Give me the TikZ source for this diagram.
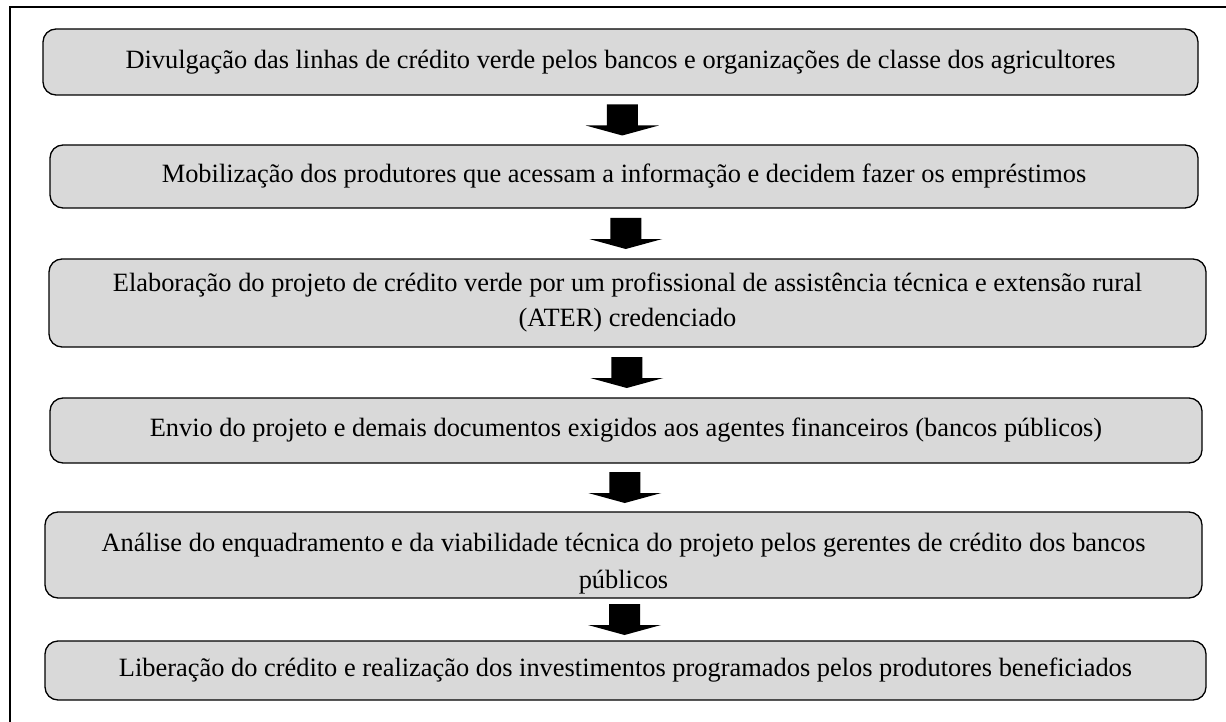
\documentclass[tikz,border=0pt]{standalone}
\usepackage{fontspec}
\setmainfont{Liberation Serif}
\usetikzlibrary{calc}
\definecolor{boxgray}{HTML}{D9D9D9}
\tikzset{
  stepbox/.style={draw=black, line width=1.3pt, fill=boxgray, rounded corners=13pt,
    align=center, inner sep=0pt, font=\fontsize{26.4}{35}\selectfont},
  blockarrow/.style={fill=black, draw=none}
}
\begin{document}
\begin{tikzpicture}[x=1pt,y=-1pt]
\useasboundingbox (0,0) rectangle (1226,722);
\draw[line width=1.4pt] (10,722) -- (10,7) -- (1226,7);

\node[stepbox, minimum width=1155pt, minimum height=66pt] (b1) at (620.5,62)
  {Divulgação das linhas de crédito verde pelos bancos e organizações de classe dos agricultores};
\node[stepbox, minimum width=1148pt, minimum height=63pt] (b2) at (624,176.5)
  {Mobilização dos produtores que acessam a informação e decidem fazer os empréstimos};
\node[stepbox, minimum width=1157pt, minimum height=88pt] (b3) at (627.5,303)
  {Elaboração do projeto de crédito verde por um profissional de assistência técnica e extensão rural\\(ATER) credenciado};
\node[stepbox, minimum width=1152pt, minimum height=65pt] (b4) at (626,430.5)
  {Envio do projeto e demais documentos exigidos aos agentes financeiros (bancos públicos)};
\node[stepbox, minimum width=1157pt, minimum height=86pt] (b5) at (623.5,555)
  {\rule{0pt}{36pt}Análise do enquadramento e da viabilidade técnica do projeto pelos gerentes de crédito dos bancos\\[2pt]públicos};
\node[stepbox, minimum width=1161pt, minimum height=59pt] (b6) at (625.5,670.5)
  {Liberação do crédito e realização dos investimentos programados pelos produtores beneficiados};

\foreach \a/\b in {b1/b2,b2/b3,b3/b4,b4/b5,b5/b6}{
  \coordinate (m) at ($(\a.south)!0.5!(\b.north)$);
  \fill[blockarrow] ($(m)+(-15.5,-15.5)$) -- ++(31,0) -- ++(0,21) -- ++(21,0)
    -- ($(m)+(0,15.5)$) -- ($(m)+(-36.5,5.5)$) -- ++(21,0) -- cycle;
}
\end{tikzpicture}
\end{document}
